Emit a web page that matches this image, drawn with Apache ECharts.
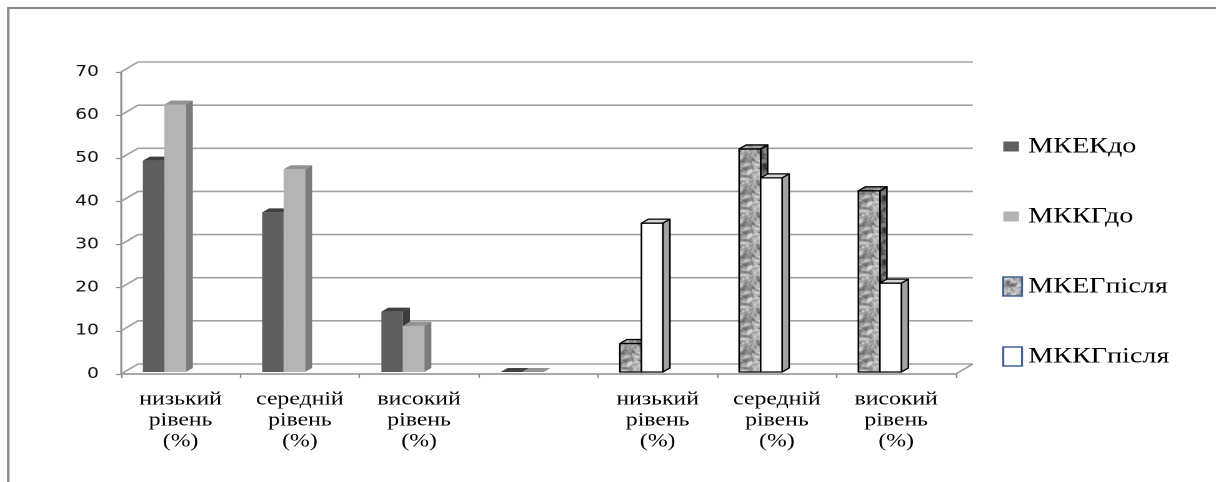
<!DOCTYPE html>
<html>
<head>
<meta charset="utf-8">
<script src="https://cdn.jsdelivr.net/npm/echarts@6/dist/echarts.min.js"></script>
<style>
  html, body { margin: 0; padding: 0; background: #fff; overflow: hidden; }
  /* the chart is laid out narrower and widened horizontally, giving the wide lettering */
  #chart { width: 973px; height: 482px; transform: scaleX(1.2497); transform-origin: 0 0; }
</style>
</head>
<body>
<div id="chart"></div>
<script>
// ---- data ----
const categories = [
  'низький\nрівень\n(%)', 'середній\nрівень\n(%)', 'високий\nрівень\n(%)', '',
  'низький\nрівень\n(%)', 'середній\nрівень\n(%)', 'високий\nрівень\n(%)'
];
const seriesNames = ['МКЕКдо', 'МККГдо', 'МКЕГпісля', 'МККГпісля'];
const mkekDo     = [49, 37, 14, 0, null, null, null];
const mkkgDo     = [62, 47, 10.7, 0, null, null, null];
const mkegPislya = [null, null, null, null, 6.6, 51.7, 42];
const mkkgPislya = [null, null, null, null, 34.5, 45, 20.6];
const yTicks = [0, 10, 20, 30, 40, 50, 60, 70];

const SERIF = 'Liberation Serif';
const SANS = 'DejaVu Sans';

// ---- 3D geometry (px) ----
const WALL_DX = 13.6, WALL_DY = -10;   // back wall offset
const BAR_W = 17.2;                     // front face width
const BAR_DX = 5.6, BAR_DY = -4;        // bar depth
const PAIR_SHIFT = -13;                 // pair offset from the category centre
const BASE_LIFT = 2;                    // bars stand slightly behind the front edge

// granite-like fill texture (deterministic value noise, tileable)
function hash(x, y) {
  let h = (Math.imul(x, 374761393) + Math.imul(y, 668265263)) | 0;
  h = Math.imul(h ^ (h >>> 13), 1274126177);
  return ((h ^ (h >>> 16)) >>> 0) / 4294967296;
}
function makeGranite(lo, hi) {
  const size = 32;
  const cv = document.createElement('canvas');
  cv.width = cv.height = size;
  const ctx = cv.getContext('2d');
  const img = ctx.createImageData(size, size);
  function lat(ix, iy, period, seed) {
    ix = ((ix % period) + period) % period;
    iy = ((iy % period) + period) % period;
    return hash(ix * 131 + seed * 7919, iy * 17 + seed);
  }
  function noise(x, y, cell, seed) {
    const period = size / cell;
    const gx = x / cell, gy = y / cell;
    const ix = Math.floor(gx), iy = Math.floor(gy);
    const fx = gx - ix, fy = gy - iy;
    const sx = fx * fx * (3 - 2 * fx), sy = fy * fy * (3 - 2 * fy);
    const a = lat(ix, iy, period, seed), b = lat(ix + 1, iy, period, seed);
    const c = lat(ix, iy + 1, period, seed), d = lat(ix + 1, iy + 1, period, seed);
    return a + (b - a) * sx + (c - a) * sy + (a - b - c + d) * sx * sy;
  }
  for (let y = 0; y < size; y++) {
    for (let x = 0; x < size; x++) {
      let n = 0.4 * noise(x, y, 4, 1) + 0.35 * noise(x, y, 2, 2) + 0.25 * noise(x, y, 1, 3);
      n = Math.max(0, Math.min(1, (n - 0.5) * 2 + 0.5));
      const g = Math.round(lo + (hi - lo) * n);
      const k = (y * size + x) * 4;
      img.data[k] = g; img.data[k + 1] = g; img.data[k + 2] = g; img.data[k + 3] = 255;
    }
  }
  ctx.putImageData(img, 0, 0);
  return { image: cv, repeat: 'repeat' };
}
const graniteFront = makeGranite(100, 220);
const graniteSide  = makeGranite(40, 140);
const graniteTop   = makeGranite(90, 200);

const barStyles = [
  { front: '#5f5f5f', side: '#3b3b3b', top: '#404040', stroke: null, lw: 0 },
  { front: '#b4b4b4', side: '#7b7b7b', top: '#939393', stroke: null, lw: 0 },
  { front: graniteFront, side: graniteSide, top: graniteTop, stroke: '#000', lw: 1.3 },
  { front: '#ffffff', side: '#a3a3a3', top: '#d4d4d4', stroke: '#000', lw: 1.3 }
];

function wallRender(params, api) {
  const cs = params.coordSys;
  const v = api.value(1);
  const y = api.coord([0, v])[1];
  const x0 = cs.x, x1 = cs.x + cs.width;
  const style = { stroke: '#a2a2a2', lineWidth: 1.6, fill: null };
  const children = [{
    type: 'polyline',
    shape: { points: [[x0, y], [x0 + WALL_DX, y + WALL_DY], [x1 + WALL_DX, y + WALL_DY]] },
    style: style
  }];
  if (v === 0) {
    children.push({ type: 'line', shape: { x1: x1, y1: y, x2: x1 + WALL_DX, y2: y + WALL_DY }, style: style });
  }
  return { type: 'group', children: children };
}

function barRender(slot, st) {
  return function (params, api) {
    const v = api.value(1);
    if (v == null || isNaN(v)) return null;
    const cat = api.value(0);
    const base = api.coord([cat, 0]);
    const top = api.coord([cat, v]);
    const yB = base[1] - BASE_LIFT, yT = top[1] - BASE_LIFT;
    const x = base[0] + PAIR_SHIFT + (slot === 0 ? -BAR_W : 0);
    const xr = x + BAR_W;
    const common = { stroke: st.stroke, lineWidth: st.lw, lineJoin: 'round' };
    const children = [];
    children.push({
      type: 'polygon',
      shape: { points: [[xr, yB], [xr + BAR_DX, yB + BAR_DY], [xr + BAR_DX, yT + BAR_DY], [xr, yT]] },
      style: Object.assign({ fill: st.side }, common)
    });
    if (yB - yT > 0.5) {
      children.push({
        type: 'rect',
        shape: { x: x, y: yT, width: BAR_W, height: yB - yT },
        style: Object.assign({ fill: st.front }, common)
      });
    }
    children.push({
      type: 'polygon',
      shape: { points: [[x, yT], [x + BAR_DX, yT + BAR_DY], [xr + BAR_DX, yT + BAR_DY], [xr, yT]] },
      style: Object.assign({ fill: st.top }, common)
    });
    return { type: 'group', children: children };
  };
}

function toData(arr) {
  return arr.map(function (v, i) { return [i, v == null ? '-' : v]; });
}

const seriesValues = [mkekDo, mkkgDo, mkegPislya, mkkgPislya];
const slots = [0, 1, 0, 1];

const series = [{
  type: 'custom',
  name: 'walls',
  silent: true,
  z: 1,
  renderItem: wallRender,
  encode: { x: 0, y: 1 },
  data: yTicks.map(function (v) { return [0, v]; })
}];
seriesValues.forEach(function (vals, k) {
  series.push({
    type: 'custom',
    name: seriesNames[k],
    z: 3 + k % 2,
    renderItem: barRender(slots[k], barStyles[k]),
    encode: { x: 0, y: 1 },
    itemStyle: { color: typeof barStyles[k].front === 'string' ? barStyles[k].front : '#aaa' },
    data: toData(vals)
  });
});

// small legend square inside a larger icon box
const SMALL_SQ = 'path://M0,0M15,19M0,4.5h12.6v10h-12.6z';

const chart = echarts.init(document.getElementById('chart'), null, { renderer: 'canvas', devicePixelRatio: 2 });
chart.setOption({
  animation: false,
  backgroundColor: '#fff',
  graphic: [{
    type: 'rect',
    silent: true,
    shape: { x: 6.6, y: 8, width: 1200, height: 600 },
    style: { fill: null, stroke: '#8a8a8a', lineWidth: 2 }
  }],
  grid: { left: 96.8, right: 208.2, top: 72, bottom: 108 },
  xAxis: {
    type: 'category',
    data: categories,
    axisLine: { lineStyle: { color: '#8c8c8c', width: 1.5 } },
    axisTick: { show: true, length: 4, interval: 0, alignWithLabel: false, lineStyle: { color: '#8c8c8c', width: 1.2 } },
    axisLabel: {
      interval: 0, margin: 15, color: '#000',
      fontFamily: SERIF, fontSize: 19, lineHeight: 21
    },
    splitLine: { show: false }
  },
  yAxis: {
    type: 'value', min: 0, max: 70, interval: 10,
    axisLine: { show: true, lineStyle: { color: '#8c8c8c', width: 1.5 } },
    axisTick: { show: true, length: 4, lineStyle: { color: '#8c8c8c', width: 1.2 } },
    axisLabel: { margin: 17.6, color: '#111', fontFamily: SANS, fontSize: 15, padding: [3, 0, 0, 0] },
    splitLine: { show: false }
  },
  legend: {
    orient: 'vertical',
    left: 797, top: 130,
    itemGap: 47, itemWidth: 15, itemHeight: 19,
    textStyle: { fontFamily: SERIF, fontSize: 22.5, color: '#000' },
    data: [
      { name: seriesNames[0], icon: SMALL_SQ, itemStyle: { color: '#5f5f5f', borderWidth: 0 } },
      { name: seriesNames[1], icon: SMALL_SQ, itemStyle: { color: '#b4b4b4', borderWidth: 0 } },
      { name: seriesNames[2], icon: 'rect', itemStyle: { color: graniteFront, borderColor: '#41639a', borderWidth: 1.6 } },
      { name: seriesNames[3], icon: 'rect', itemStyle: { color: '#ffffff', borderColor: '#41639a', borderWidth: 1.6 } }
    ]
  },
  series: series
});
</script>
</body>
</html>
